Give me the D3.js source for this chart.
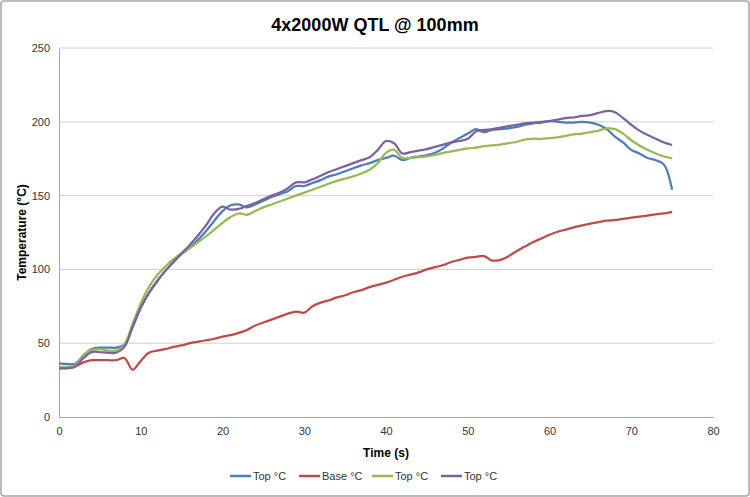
<!DOCTYPE html>
<html><head><meta charset="utf-8">
<script src="https://cdn.jsdelivr.net/npm/d3@7"></script>
<style>
body{margin:0;background:#fff;}
svg{display:block;font-family:"Liberation Sans Narrow","Liberation Sans",Arial,sans-serif;}
</style></head>
<body>
<svg id="chart" width="750" height="497"></svg>
<script>
const title = "4x2000W QTL @ 100mm";
const xLabel = "Time (s)";
const yLabel = "Temperature (°C)";
const xTicks = [0,10,20,30,40,50,60,70,80];
const yTicks = [0,50,100,150,200,250];
const seriesNames = ["Top °C","Base °C","Top °C","Top °C"];
const seriesColors = ["#4A7EBB","#BE4B48","#98B954","#7D60A0"];
const time = d3.range(0,76);
const top1 = [36.4,36,36,42,46,47,47,47,49,61,74,84,92,99,105,110.5,114.5,120,126,133,139.5,143.5,144,142,144,146.5,149,151,153,156.5,156.5,158.5,160.5,163,164.5,166.5,168.5,170.5,172,174,175.5,177,174,175.5,176.5,177.5,179,182,186,189,192,195,193,194.5,195,195.5,196.5,198,199,199.5,200.5,200,199.5,199.5,200,199.5,198,195,190,186,181,178.5,175.5,174,171,154];
const base = [33,33.5,34.5,37,38.5,38.5,38.5,38.5,40,32,38,43.5,45,46,47.5,48.5,50,51,52,53,54.5,55.5,57,59,62,64,66,68,70,71.4,70.7,75,77.5,79,81,82.5,84.5,86,88,89.5,91,93,95,96.5,98,100,101.5,103,105,106.5,108,108.5,109,106,106.5,109,112.5,115.5,118.5,121,123.5,125.5,127,128.5,129.8,131,132,133,133.5,134.3,135,135.8,136.5,137.3,138,139];
const top2 = [34,34,35,42,45.5,46,45,45,49,63,77,88,96,102,107,111,114.5,118.5,122.5,127,131.5,135.5,138,137,139.5,142,144,146,148,150,152,154,156,158,160,161.5,163,165,167.5,172,179,181,175.5,175.5,176,176.5,177.5,179,180,181,182,182.5,183.5,184,184.5,185.5,186.5,188,188.5,188.5,189,189.5,190.5,191.5,192,193,194,195.5,195,192,187.5,184,181,178.5,176.5,175.3];
const top3 = [33,33,34,40,44,44,43.5,43.5,47.5,61,74,84,92,99,105,111,116.5,123,130,138,142.5,140.5,141,143,145,147.5,150,152,155,159,159,161,163.5,166,168,170,172,174,176,181,187,185.5,178.5,179.5,180.5,181.5,183,184.5,186,187,188.5,193.5,194.5,195,196,197,198,199,199.5,200,200.5,201.5,202.5,203,204,204.5,206,207.3,206.5,202.5,198,194,191,188.5,186,184.3];
const allSeries = [top1, base, top2, top3];

const svg = d3.select("#chart");
const m = {left:59, right:713, top:48, bottom:417};
const x = d3.scaleLinear().domain([0,80]).range([m.left,m.right]);
const y = d3.scaleLinear().domain([0,250]).range([m.bottom,m.top]);

// border
svg.append("rect").attr("x",1).attr("y",1).attr("width",748).attr("height",495)
  .attr("fill","#fff").attr("stroke","#a6a6a6").attr("stroke-width",1.5).attr("rx",3);

// title
svg.append("text").attr("x",375).attr("y",31).attr("text-anchor","middle")
  .attr("font-size",18).attr("font-weight","bold").attr("fill","#000").text(title);

// gridlines
svg.append("g").selectAll("line").data(yTicks.filter(d=>d>0)).join("line")
  .attr("x1",m.left).attr("x2",m.right).attr("y1",d=>y(d)).attr("y2",d=>y(d))
  .attr("stroke","#d0d0d0").attr("stroke-width",1);

// axes
const yAxis = svg.append("g").attr("transform",`translate(${m.left},0)`)
  .call(d3.axisLeft(y).tickValues(yTicks).tickSize(0).tickPadding(9));
const xAxis = svg.append("g").attr("transform",`translate(0,${m.bottom})`)
  .call(d3.axisBottom(x).tickValues(xTicks).tickSize(0).tickPadding(10));
[yAxis,xAxis].forEach(g=>{
  g.select(".domain").attr("stroke","#a6a6a6").attr("stroke-width",1);
  g.selectAll("text").attr("font-size",11).attr("fill","#333")
   .attr("font-family","'Liberation Sans Narrow','Liberation Sans',Arial,sans-serif");
});

// axis labels
svg.append("text").attr("x",(m.left+m.right)/2).attr("y",457).attr("text-anchor","middle")
  .attr("font-size",12).attr("font-weight","bold").text(xLabel);
svg.append("text").attr("transform",`translate(26,${(m.top+m.bottom)/2}) rotate(-90)`)
  .attr("text-anchor","middle").attr("font-size",12).attr("font-weight","bold").text(yLabel);

// lines
const line = d3.line().x((d,i)=>x(time[i])).y(d=>y(d)).curve(d3.curveCatmullRom.alpha(0.5));
[0,1,2,3].forEach(k=>{
  svg.append("path").datum(allSeries[k]).attr("d",line).attr("fill","none")
    .attr("stroke",seriesColors[k]).attr("stroke-width",2.25).attr("stroke-linejoin","round");
});

// legend
const legendX = [230,299,372,441];
const lg = svg.append("g");
seriesNames.forEach((n,i)=>{
  lg.append("line").attr("x1",legendX[i]).attr("x2",legendX[i]+21).attr("y1",476).attr("y2",476)
    .attr("stroke",seriesColors[i]).attr("stroke-width",2.5);
  lg.append("text").attr("x",legendX[i]+23).attr("y",480).attr("font-size",11).attr("fill","#333").text(n);
});
</script>
</body></html>
